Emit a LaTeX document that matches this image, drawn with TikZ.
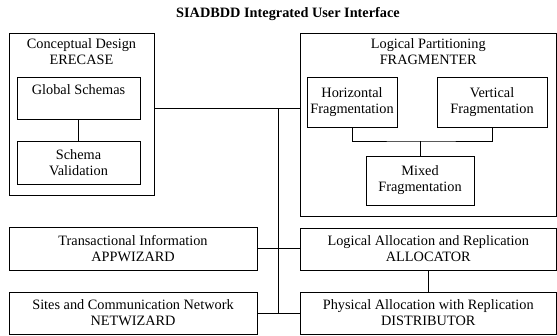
\documentclass[tikz,border=0pt]{standalone}
\usepackage{fontspec}
\setmainfont{Liberation Serif}

\begin{document}
\begin{tikzpicture}[x=1pt,y=-1pt,
    txt/.style={font=\fontsize{14.3}{16}\selectfont},
    box/.style={draw,line width=1pt,align=center,inner sep=0pt,txt},
    group/.style={box,label={[txt,align=center,anchor=north,inner sep=6pt]north:#1}},
    link/.style={line width=1pt}]
      \useasboundingbox (0,0) rectangle (557,335);

      \node[txt,font=\bfseries\fontsize{14.3}{16}\selectfont] (title) at (288,14) {SIADBDD Integrated User Interface};

      % conceptual design
      \node[group={Conceptual Design\\ERECASE},minimum width=145pt,minimum height=162pt] (concept) at (81.5,114) {};
      \node[box,minimum width=123pt,minimum height=42pt] (global) at (78.5,98) {Global Schemas\\~};
      \node[box,minimum width=123pt,minimum height=43pt] (valid) at (78.5,162.5) {Schema\\Validation};
      \draw[link] (global) -- (valid);

      % logical partitioning
      \node[group={Logical Partitioning\\FRAGMENTER},minimum width=256.5pt,minimum height=183pt] (frag) at (428.25,124.5) {};
      \node[box,minimum width=90pt,minimum height=50pt] (horiz) at (352,102) {Horizontal\\Fragmentation};
      \node[box,minimum width=110pt,minimum height=50pt] (vert) at (492,102) {Vertical\\Fragmentation};
      \node[box,minimum width=108pt,minimum height=49pt] (mixed) at (420,180.5) {Mixed\\Fragmentation};
      \coordinate (fragjoin) at (mixed.north |- 0,141);
      \draw[link] (horiz.south) |- (fragjoin) -| (vert.south);
      \draw[link] (mixed.north) -- (fragjoin);

      % lower rows
      \node[box,minimum width=248pt,minimum height=43pt] (trans) at (133,248.5) {Transactional Information\\APPWIZARD};
      \node[box,minimum width=248pt,minimum height=42pt] (sites) at (133,313) {Sites and Communication Network\\NETWIZARD};
      \node[box,minimum width=256.5pt,minimum height=42pt] (alloc) at (428.25,249) {Logical Allocation and Replication\\ALLOCATOR};
      \node[box,minimum width=256.5pt,minimum height=42pt] (distrib) at (428.25,313) {Physical Allocation with Replication\\DISTRIBUTOR};
      \draw[link] (alloc) -- (distrib);

      % common bus
      \coordinate (bustop) at (278,108);
      \coordinate (busbot) at (278,313);
      \draw[link] (concept.east |- bustop) -- (frag.west |- bustop);
      \draw[link] (bustop) -- (busbot);
      \draw[link] (trans.east) -- (alloc.west |- trans.east);
      \draw[link] (sites.east) -- (distrib.west);
\end{tikzpicture}
\end{document}
